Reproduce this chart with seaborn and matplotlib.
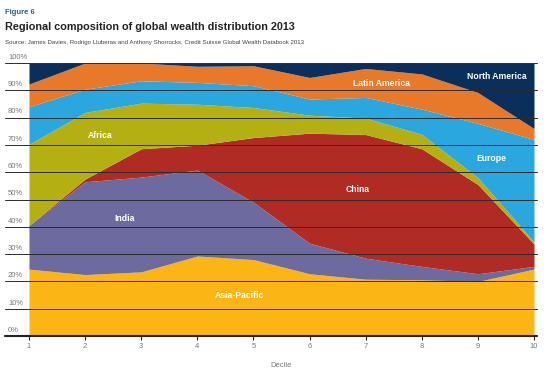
import seaborn as sns
import matplotlib.pyplot as plt
import numpy as np
import pandas as pd

deciles = [1, 2, 3, 4, 5, 6, 7, 8, 9, 10]

# shares per region (percent), bottom to top
asia_pacific = [24.5, 22.5, 23.5, 29.3, 28.0, 22.8, 20.8, 20.6, 20.0, 24.5]
india        = [16.0, 34.0, 34.7, 31.5, 21.0, 11.2, 7.7, 4.9, 2.8, 1.0]
china        = [0.0, 1.0, 10.4, 9.1, 23.7, 40.3, 45.3, 43.1, 32.7, 8.2]
africa       = [29.7, 24.4, 16.7, 15.0, 11.0, 6.6, 6.0, 5.3, 2.5, 0.8]
europe       = [13.8, 8.5, 8.2, 8.0, 8.0, 5.9, 7.6, 9.2, 19.9, 37.5]
latin_am     = [8.3, 9.6, 6.5, 5.9, 7.3, 7.9, 10.6, 12.9, 11.3, 4.0]
north_am     = [7.7, 0.0, 0.0, 1.2, 1.0, 5.3, 2.0, 4.0, 10.8, 24.0]

regions = ["Asia-Pacific", "India", "China", "Africa", "Europe", "Latin America", "North America"]
colors = ["#fbb616", "#6d6a9f", "#b02b24", "#b4b013", "#2ba7df", "#e8782a", "#0b2f5b"]

df = pd.DataFrame(dict(zip(regions, [asia_pacific, india, china, africa, europe, latin_am, north_am])),
                  index=deciles)

sns.set_theme(style="white")
plt.rcParams['font.family'] = ['Liberation Sans', 'DejaVu Sans']

fig = plt.figure(figsize=(5.5, 3.7), dpi=100)
ax = fig.add_axes([0.0527, 0.0919, 0.9182, 0.7378])

ax.stackplot(df.index, [df[r] for r in regions], colors=colors, linewidth=0)
ax.set_xlim(1, 10)
ax.set_ylim(0, 100)

# gridlines drawn over the areas, running out past the left edge
for v in range(10, 101, 10):
    ax.axhline(v, xmin=-0.0475, xmax=1.006, color="#2b2b2b", lw=0.7, clip_on=False, zorder=5)
ax.axhline(0, xmin=-0.0475, xmax=1.006, color="#222222", lw=1.5, clip_on=False, zorder=6)

ytr = ax.get_yaxis_transform()
for v in range(0, 101, 10):
    ax.text(-0.0416, v + 0.8, f"{v}%", transform=ytr, ha="left", va="bottom",
            fontsize=5.5, color="#777777")

ax.set_yticks([])
ax.set_xticks(deciles)
ax.set_xticklabels([str(d) for d in deciles], fontsize=5.5, color="#777777")
ax.tick_params(axis="x", length=3, width=0.8, color="#222222", pad=2, bottom=True)
ax.set_xlabel("Decile", fontsize=5.5, color="#777777", labelpad=9)
sns.despine(ax=ax, left=True, right=True, top=True, bottom=True)

labels = {
    "Africa": (2.27, 73.5),
    "India": (2.71, 43.0),
    "Asia-Pacific": (4.76, 14.7),
    "China": (6.86, 53.7),
    "Europe": (9.24, 65.1),
    "Latin America": (7.29, 92.6),
    "North America": (9.34, 95.2),
}
for name, (x, y) in labels.items():
    ax.text(x, y, name, ha="center", va="center", fontsize=6.2, fontweight="bold",
            color="white", zorder=7)

fig.text(0.009, 0.975, "Figure 6", fontsize=5.5, fontweight="bold", color="#2a5f8f", va="top")
fig.text(0.009, 0.94, "Regional composition of global wealth distribution 2013", fontsize=7.8,
         fontweight="bold", color="#222222", va="top")
fig.text(0.009, 0.893, "Source: James Davies, Rodrigo Lluberas and Anthony Shorrocks, Credit Suisse Global Wealth Databook 2013",
         fontsize=4.4, color="#444444", va="top")

fig.savefig("out.png", dpi=100)
